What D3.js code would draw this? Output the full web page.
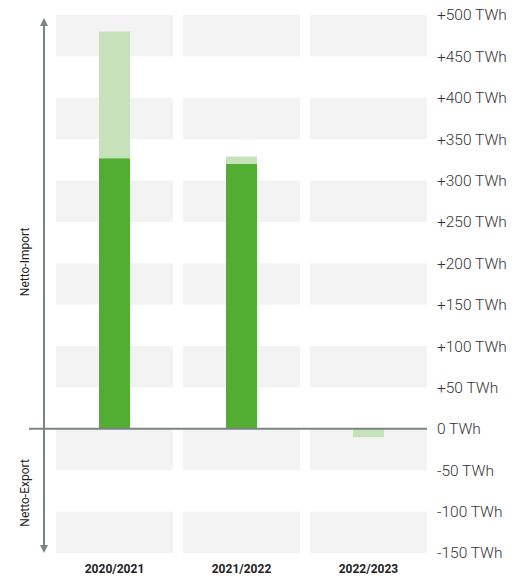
<!DOCTYPE html>
<html>
<head>
<meta charset="utf-8">
<script src="https://cdn.jsdelivr.net/npm/d3@7"></script>
<style>
  body { margin: 0; background: #fff; }
  text { font-family: Roboto, "Noto Sans", sans-serif; }
</style>
</head>
<body>
<div class="chart"></div>
<script>
// Netto-Import / Netto-Export per year (TWh)
const years = ["2020/2021", "2021/2022", "2022/2023"];
const darkValues = [327, 320, 0];
const lightValues = [153, 9, -10];
const yTicks = [500, 450, 400, 350, 300, 250, 200, 150, 100, 50, 0, -50, -100, -150];
const bands = [[450, 500], [350, 400], [250, 300], [150, 200], [50, 100], [-50, 0], [-150, -100]];

var width = 528, height = 576;

var svg = d3.select(".chart").append("svg")
    .attr("width", width)
    .attr("height", height);

var x = d3.scaleBand()
    .domain(years)
    .range([56, 427])
    .paddingInner(0.0787)
    .paddingOuter(0);

var y = d3.scaleLinear()
    .domain([-150, 500])
    .range([553, 15]);

// grey bands per column
years.forEach(function (yr) {
    svg.selectAll(null)
        .data(bands)
        .enter().append("rect")
        .attr("x", x(yr))
        .attr("width", x.bandwidth())
        .attr("y", function (d) { return y(d[1]); })
        .attr("height", function (d) { return y(d[0]) - y(d[1]); })
        .attr("fill", "#f3f3f3");
});

// stacked bars
var barW = 31;
var stacked = years.map(function (yr, i) {
    var d = darkValues[i], l = lightValues[i];
    var base = l >= 0 ? d : 0;
    return { year: yr, dark: d, l0: base, l1: base + l };
});

svg.selectAll(".dark")
    .data(stacked)
    .enter().append("rect")
    .attr("class", "dark")
    .attr("x", function (d) { return x(d.year) + x.bandwidth() / 2 - barW / 2; })
    .attr("width", barW)
    .attr("y", function (d) { return y(Math.max(0, d.dark)); })
    .attr("height", function (d) { return Math.abs(y(d.dark) - y(0)); })
    .attr("fill", "#52ae32");

svg.selectAll(".light")
    .data(stacked)
    .enter().append("rect")
    .attr("class", "light")
    .attr("x", function (d) { return x(d.year) + x.bandwidth() / 2 - barW / 2; })
    .attr("width", barW)
    .attr("y", function (d) { return y(Math.max(d.l0, d.l1)); })
    .attr("height", function (d) { return Math.abs(y(d.l1) - y(d.l0)); })
    .attr("fill", "#c5e2bb");

// zero line
svg.append("line")
    .attr("x1", 29).attr("x2", 427)
    .attr("y1", y(0)).attr("y2", y(0))
    .attr("stroke", "#7b8585")
    .attr("stroke-width", 2);

// vertical double arrow
var defs = svg.append("defs");
defs.append("marker")
    .attr("id", "arrow")
    .attr("viewBox", "0 0 10 10")
    .attr("refX", 5).attr("refY", 5)
    .attr("markerWidth", 4).attr("markerHeight", 4)
    .attr("orient", "auto-start-reverse")
    .append("path")
    .attr("d", "M0,0 L10,5 L0,10 z")
    .attr("fill", "#7b8585");

svg.append("line")
    .attr("x1", 44).attr("x2", 44)
    .attr("y1", 22).attr("y2", 549)
    .attr("stroke", "#7b8585")
    .attr("stroke-width", 2)
    .attr("marker-start", "url(#arrow)")
    .attr("marker-end", "url(#arrow)");

svg.append("text")
    .attr("transform", "translate(29," + ((y(500) + y(0)) / 2 + 40) + ") rotate(-90)")
    .attr("text-anchor", "middle")
    .attr("font-size", 12)
    .attr("fill", "#222")
    .text("Netto-Import");

svg.append("text")
    .attr("transform", "translate(29," + (y(-75) + 2) + ") rotate(-90)")
    .attr("text-anchor", "middle")
    .attr("font-size", 12)
    .attr("fill", "#222")
    .text("Netto-Export");

// y axis on the right
var yAxis = svg.append("g")
    .attr("transform", "translate(437,0)")
    .call(d3.axisRight(y)
        .tickValues(yTicks)
        .tickSize(0)
        .tickPadding(0)
        .tickFormat(function (d) { return (d > 0 ? "+" : "") + d + " TWh"; }));
yAxis.select(".domain").remove();
yAxis.selectAll("text")
    .attr("font-size", 15.5)
    .attr("font-family", "Roboto, sans-serif")
    .attr("font-weight", 300)
    .attr("fill", "#333");

// x axis labels
svg.selectAll(".xlabel")
    .data(years)
    .enter().append("text")
    .attr("class", "xlabel")
    .attr("x", function (d) { return x(d) + x.bandwidth() / 2; })
    .attr("y", 573)
    .attr("text-anchor", "middle")
    .attr("font-size", 12)
    .attr("font-weight", "bold")
    .attr("fill", "#222")
    .text(function (d) { return d; });
</script>
</body>
</html>
